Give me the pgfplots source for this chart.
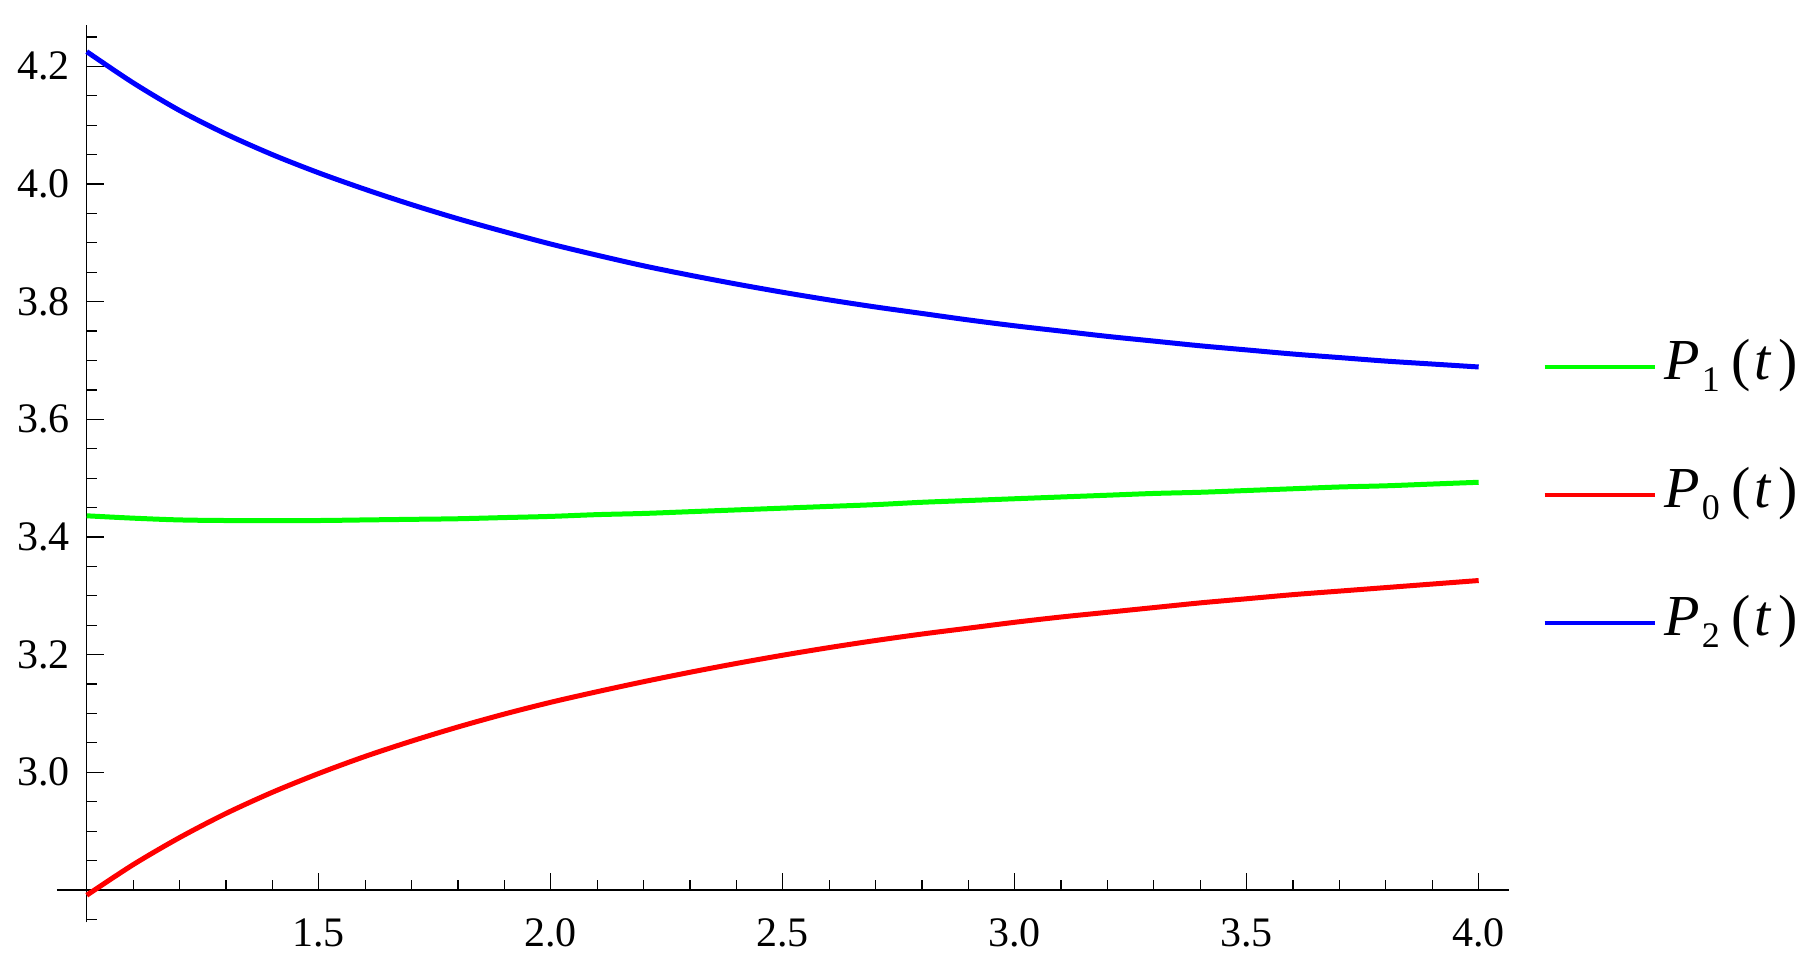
\documentclass[border=0pt]{standalone}
\usepackage{fontspec}
\setmainfont{LiberationSerif}[Extension=.ttf, UprightFont=*-Regular, ItalicFont=*-Italic,
    BoldFont=*-Bold, BoldItalicFont=*-BoldItalic]
\usepackage{pgfplots}
\pgfplotsset{compat=1.18}

\definecolor{pgreen}{rgb}{0,1,0}
\definecolor{pred}{rgb}{1,0,0}
\definecolor{pblue}{rgb}{0,0,1}

\newcommand{\Pt}[1]{\textit{P}\kern0.5pt\raisebox{-3pt}{\fontsize{9}{9}\selectfont #1}\kern3pt(\kern0.8pt\textit{t}\kern1.8pt)}

\begin{document}
\begin{tikzpicture}
\begin{axis}[
    x=116pt, y=147.08pt,
    xmin=1, xmax=4.065,
    ymin=2.8, ymax=4.271,
    axis lines=left,
    axis line style={-, line width=0.3pt},
    x axis line style={shorten <=-7.5pt},
    y axis line style={shorten <=-8.1pt},
    clip=false,
    tick align=inside,
    major tick length=4.2pt,
    minor tick length=2.5pt,
    every tick/.style={black, line width=0.3pt},
    xtick={1.5,2.0,2.5,3.0,3.5,4.0},
    minor xtick={1.1,1.2,1.3,1.4,1.6,1.7,1.8,1.9,2.1,2.2,2.3,2.4,2.6,2.7,2.8,2.9,
                 3.1,3.2,3.3,3.4,3.6,3.7,3.8,3.9},
    ytick={3.0,3.2,3.4,3.6,3.8,4.0,4.2},
    minor ytick={2.85,2.9,2.95,3.05,3.1,3.15,3.25,3.3,3.35,3.45,3.5,3.55,
                 3.65,3.7,3.75,3.85,3.9,3.95,4.05,4.1,4.15,4.25},
    /pgf/number format/.cd, fixed, fixed zerofill, precision=1, assume math mode=true,
    /pgfplots/.cd,
    ticklabel style={font=\fontsize{10.5}{12}\selectfont},
    xticklabel style={yshift=-3.6pt},
    yticklabel style={xshift=-0.7pt},
    legend style={at={(axis cs:4.136,3.733)}, anchor=north west, draw=none, fill=none,
                  inner sep=0pt, row sep=19.5pt, column sep=2pt,
                  font=\fontsize{14.5}{16}\selectfont,
                  nodes={inner sep=0pt, text height=9.5pt, text depth=3pt, anchor=west}},
    legend cell align=left,
    legend image code/.code={\draw[#1, line width=1pt] (0pt,0pt) -- (27.5pt,0pt);},
]

\addplot[pgreen, line width=1.25pt, smooth] coordinates {
    (1.0,3.436) (1.1,3.432) (1.2,3.429) (1.3,3.428) (1.4,3.428) (1.5,3.428)
    (1.6,3.429) (1.7,3.430) (1.8,3.431) (1.9,3.433) (2.0,3.435) (2.1,3.438)
    (2.2,3.440) (2.3,3.443) (2.4,3.446) (2.5,3.449) (2.6,3.452) (2.7,3.455)
    (2.8,3.459) (2.9,3.462) (3.0,3.465) (3.1,3.468) (3.2,3.471) (3.3,3.474)
    (3.4,3.476) (3.5,3.479) (3.6,3.482) (3.7,3.485) (3.8,3.487) (3.9,3.490)
    (4.0,3.493)
};
\addlegendentry{\Pt{1}}

\addplot[pred, line width=1.25pt, smooth] coordinates {
    (1.0,2.791) (1.1,2.843) (1.2,2.889) (1.3,2.930) (1.4,2.966) (1.5,2.998)
    (1.6,3.027) (1.7,3.053) (1.8,3.077) (1.9,3.099) (2.0,3.119) (2.1,3.137)
    (2.2,3.154) (2.3,3.170) (2.4,3.185) (2.5,3.199) (2.6,3.212) (2.7,3.224)
    (2.8,3.235) (2.9,3.245) (3.0,3.255) (3.1,3.264) (3.2,3.272) (3.3,3.280)
    (3.4,3.288) (3.5,3.295) (3.6,3.302) (3.7,3.308) (3.8,3.314) (3.9,3.320)
    (4.0,3.326)
};
\addlegendentry{\Pt{0}}

\addplot[pblue, line width=1.25pt, smooth] coordinates {
    (1.0,4.225) (1.1,4.172) (1.2,4.125) (1.3,4.085) (1.4,4.050) (1.5,4.019)
    (1.6,3.991) (1.7,3.965) (1.8,3.941) (1.9,3.919) (2.0,3.898) (2.1,3.879)
    (2.2,3.861) (2.3,3.845) (2.4,3.830) (2.5,3.816) (2.6,3.803) (2.7,3.791)
    (2.8,3.780) (2.9,3.769) (3.0,3.759) (3.1,3.750) (3.2,3.741) (3.3,3.733)
    (3.4,3.725) (3.5,3.718) (3.6,3.711) (3.7,3.705) (3.8,3.699) (3.9,3.694)
    (4.0,3.689)
};
\addlegendentry{\Pt{2}}

% minor tick below the x axis, outside the axis range
\draw[line width=0.3pt] (axis cs:1,2.75) -- ++(2.5pt,0pt);
% page margins as in the reference
\path (axis cs:0.813,2.6673) rectangle (axis cs:4.712,4.3128);
\end{axis}
\end{tikzpicture}
\end{document}
